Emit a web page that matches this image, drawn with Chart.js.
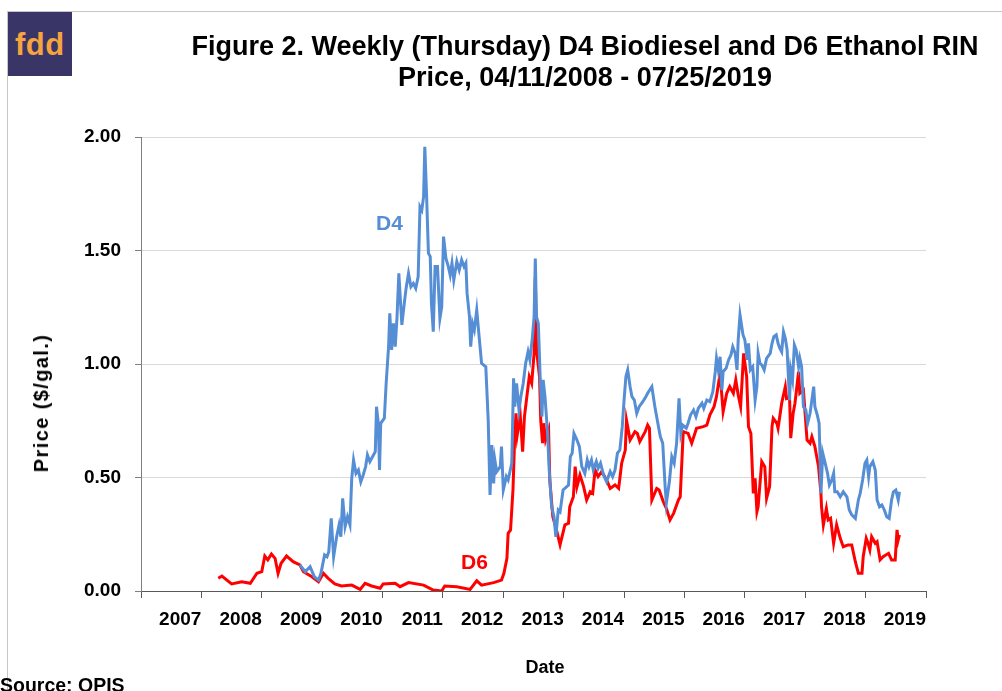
<!DOCTYPE html>
<html>
<head>
<meta charset="utf-8">
<title>D4 and D6 RIN prices</title>
<script src="https://cdn.jsdelivr.net/npm/chart.js@4.4.0/dist/chart.umd.min.js"></script>
<style>
  body { margin: 0; background: #fff; overflow: hidden; }
  #page { position: relative; width: 1002px; height: 691px; font-family: "Liberation Sans", Arial, sans-serif; }
  #wrap { position: absolute; left: 0; top: 0; width: 1002px; height: 691px; }
  .txt { position: absolute; font-weight: bold; white-space: nowrap; }
  #frameTop { position: absolute; left: 7px; top: 11px; width: 995px; height: 0; border-top: 1px solid #c6c6c6; }
  #frameLeft { position: absolute; left: 7px; top: 11px; width: 0; height: 680px; border-left: 1px solid #c6c6c6; }
  #logo { position: absolute; left: 8px; top: 12px; width: 64px; height: 64px; background: #393566; }
  #logo span { position: absolute; left: 7px; top: 15px; font-size: 31px; line-height: 35px; color: #f6a43f; font-weight: bold; letter-spacing: 0.5px; }
  #title { left: 185px; top: 31px; width: 800px; text-align: center; font-size: 27px; line-height: 31px; color: #000; }
  #ytitle { left: 41px; top: 403px; font-size: 20px; line-height: 22px; letter-spacing: 1.4px; transform: translate(-50%, -50%) rotate(-90deg); }
  #xtitle { left: 545px; top: 656px; font-size: 18px; line-height: 22px; transform: translateX(-50%); }
  #source { left: 0px; top: 674px; font-size: 19.5px; line-height: 22px; }
  #lblD4 { left: 376px; top: 211px; font-size: 21px; line-height: 24px; color: #558ed5; }
  #lblD6 { left: 461px; top: 550px; font-size: 21px; line-height: 24px; color: #ff0000; }
</style>
</head>
<body>
<div id="page">
  <div id="wrap"><canvas id="mycanvas"></canvas></div>
  <div id="frameTop"></div>
  <div id="frameLeft"></div>
  <div id="logo"><span>fdd</span></div>
  <div id="title" class="txt">Figure 2. Weekly (Thursday) D4 Biodiesel and D6 Ethanol RIN<br>Price, 04/11/2008 - 07/25/2019</div>
  <div id="ytitle" class="txt">Price ($/gal.)</div>
  <div id="xtitle" class="txt">Date</div>
  <div id="source" class="txt">Source: OPIS</div>
  <div id="lblD4" class="txt">D4</div>
  <div id="lblD6" class="txt">D6</div>
</div>
<script>
// tick labels
var yearLabels = ['2007', '2008', '2009', '2010', '2011', '2012', '2013', '2014', '2015', '2016', '2017', '2018', '2019'];
var priceLabels = ['0.00', '0.50', '1.00', '1.50', '2.00'];

// D4 biodiesel RIN, $/gal (date as decimal year)
var d4Years = [2009.63, 2009.72, 2009.80, 2009.87, 2009.94, 2009.98, 2010.04, 2010.08, 2010.11, 2010.15, 2010.19, 2010.24, 2010.28, 2010.31, 2010.34, 2010.38, 2010.42, 2010.46, 2010.49, 2010.52, 2010.56, 2010.60, 2010.64, 2010.68, 2010.72, 2010.75, 2010.79, 2010.85, 2010.88, 2010.90, 2010.93, 2010.95, 2010.97,
  2011.03, 2011.06, 2011.10, 2011.12, 2011.15, 2011.18, 2011.21, 2011.24, 2011.27, 2011.32, 2011.36, 2011.39, 2011.43, 2011.47, 2011.51, 2011.55, 2011.59, 2011.62, 2011.65, 2011.68, 2011.70, 2011.73, 2011.76, 2011.79, 2011.81, 2011.84, 2011.87, 2011.91, 2011.95, 2011.98,
  2012.01, 2012.05, 2012.09, 2012.12, 2012.15, 2012.18, 2012.23, 2012.27, 2012.31, 2012.35, 2012.38, 2012.40, 2012.44, 2012.46, 2012.49, 2012.52, 2012.56, 2012.60, 2012.64, 2012.71, 2012.75, 2012.78, 2012.81, 2012.84, 2012.86, 2012.89, 2012.95, 2012.97,
  2013.00, 2013.05, 2013.08, 2013.14, 2013.17, 2013.19, 2013.22, 2013.26, 2013.29, 2013.33, 2013.37, 2013.41, 2013.44, 2013.48, 2013.51, 2013.53, 2013.55, 2013.58, 2013.61, 2013.64, 2013.66, 2013.69, 2013.73, 2013.76, 2013.80, 2013.84, 2013.87, 2013.91, 2013.94, 2013.99,
  2014.08, 2014.11, 2014.14, 2014.17, 2014.22, 2014.26, 2014.30, 2014.35, 2014.39, 2014.42, 2014.46, 2014.49, 2014.54, 2014.57, 2014.61, 2014.66, 2014.71, 2014.77, 2014.81, 2014.85, 2014.89, 2014.93, 2014.97,
  2015.00, 2015.03, 2015.06, 2015.10, 2015.13, 2015.17, 2015.21, 2015.25, 2015.31, 2015.36, 2015.39, 2015.46, 2015.51, 2015.57, 2015.60, 2015.64, 2015.68, 2015.70, 2015.75, 2015.79, 2015.83, 2015.87, 2015.91, 2015.94, 2015.97,
  2016.03, 2016.06, 2016.10, 2016.15, 2016.19, 2016.23, 2016.29, 2016.32, 2016.37, 2016.42, 2016.47, 2016.51, 2016.53, 2016.56, 2016.59, 2016.62, 2016.64, 2016.69, 2016.73, 2016.77, 2016.80, 2016.84, 2016.87, 2016.89, 2016.92, 2016.97,
  2017.00, 2017.04, 2017.06, 2017.09, 2017.13, 2017.17, 2017.20, 2017.22, 2017.25, 2017.28, 2017.32, 2017.36, 2017.42, 2017.45, 2017.48, 2017.52, 2017.55, 2017.58, 2017.61, 2017.64, 2017.67, 2017.70, 2017.74, 2017.76, 2017.79, 2017.82, 2017.85, 2017.89, 2017.91, 2017.94, 2017.97,
  2018.01, 2018.04, 2018.08, 2018.11, 2018.14, 2018.16, 2018.20, 2018.23, 2018.26, 2018.29, 2018.33, 2018.37, 2018.40, 2018.44, 2018.47, 2018.49, 2018.53, 2018.58, 2018.63, 2018.69, 2018.73, 2018.77, 2018.83, 2018.88, 2018.91, 2018.95, 2018.99,
  2019.02, 2019.05, 2019.07, 2019.12, 2019.16, 2019.19, 2019.23, 2019.27, 2019.31, 2019.35, 2019.39, 2019.43, 2019.46, 2019.50, 2019.54, 2019.56];
var d4Prices = [0.115, 0.085, 0.107, 0.063, 0.048, 0.078, 0.159, 0.151, 0.173, 0.32, 0.151, 0.239, 0.291, 0.239, 0.408, 0.283, 0.327, 0.291, 0.496, 0.577, 0.518, 0.533, 0.481, 0.511, 0.548, 0.599, 0.57, 0.599, 0.614, 0.812, 0.739, 0.533, 0.739,
  0.761, 0.915, 1.076, 1.223, 1.062, 1.179, 1.076, 1.208, 1.399, 1.172, 1.267, 1.333, 1.399, 1.34, 1.355, 1.333, 1.385, 1.693, 1.678, 1.737, 1.957, 1.737, 1.488, 1.473, 1.267, 1.142, 1.429, 1.429, 1.201, 1.252,
  1.561, 1.465, 1.429, 1.392, 1.444, 1.37, 1.451, 1.414, 1.458, 1.429, 1.444, 1.311, 1.208, 1.076, 1.179, 1.15, 1.238, 1.12, 1.003, 0.988, 0.753, 0.423, 0.643, 0.474, 0.577, 0.526, 0.548, 0.636,
  0.445, 0.504, 0.489, 0.563, 0.937, 0.812, 0.915, 0.797, 0.856, 0.915, 1.003, 1.054, 1.018, 1.113, 1.208, 1.465, 1.208, 1.179, 0.944, 0.768, 0.93, 0.856, 0.709, 0.533, 0.371, 0.327, 0.239, 0.357, 0.349, 0.445,
  0.467, 0.592, 0.607, 0.694, 0.665, 0.636, 0.548, 0.518, 0.577, 0.548, 0.577, 0.533, 0.57, 0.54, 0.563, 0.511, 0.481, 0.526, 0.504, 0.533, 0.607, 0.621, 0.724,
  0.841, 0.944, 0.974, 0.9, 0.856, 0.841, 0.783, 0.812, 0.834, 0.856, 0.871, 0.9, 0.812, 0.724, 0.68, 0.651, 0.46, 0.386, 0.481, 0.592, 0.563, 0.651, 0.849, 0.694, 0.731,
  0.717, 0.739, 0.775, 0.797, 0.768, 0.805, 0.827, 0.805, 0.841, 0.834, 0.878, 0.966, 1.025, 0.974, 1.032, 0.885, 0.966, 0.981, 1.018, 1.04, 1.076, 1.047, 0.974, 1.106, 1.216, 1.128,
  1.106, 1.018, 1.091, 0.974, 0.988, 0.841, 0.9, 1.047, 1.003, 0.996, 0.974, 1.025, 1.047, 1.091, 1.12, 1.128, 1.091, 1.069, 1.054, 1.142, 1.113, 1.062, 0.841, 0.974, 0.93, 1.084, 1.062, 0.988, 1.025, 0.988, 0.812,
  0.797, 0.739, 0.783, 0.841, 0.9, 0.812, 0.775, 0.739, 0.43, 0.607, 0.563, 0.518, 0.467, 0.489, 0.518, 0.437, 0.437, 0.415, 0.437, 0.415, 0.357, 0.335, 0.32, 0.401, 0.43, 0.489, 0.563,
  0.577, 0.504, 0.548, 0.57, 0.533, 0.401, 0.371, 0.379, 0.357, 0.327, 0.32, 0.401, 0.437, 0.445, 0.401, 0.437];

// D6 ethanol RIN, $/gal (date as decimal year)
var d6Years = [2008.28, 2008.34, 2008.50, 2008.67, 2008.81, 2008.92, 2009.00, 2009.05, 2009.10, 2009.16, 2009.22, 2009.27, 2009.32, 2009.41, 2009.52, 2009.63, 2009.69, 2009.83, 2009.94,
  2010.02, 2010.10, 2010.21, 2010.32, 2010.49, 2010.63, 2010.71, 2010.82, 2010.96, 2011.01, 2011.21, 2011.29, 2011.43, 2011.68, 2011.84, 2011.98,
  2012.03, 2012.23, 2012.45, 2012.56, 2012.64, 2012.84, 2012.97, 2013.01, 2013.06, 2013.08, 2013.12, 2013.16, 2013.19, 2013.21, 2013.23, 2013.28, 2013.32, 2013.35, 2013.39, 2013.43, 2013.47, 2013.51, 2013.53, 2013.55, 2013.60, 2013.62, 2013.65, 2013.67, 2013.70, 2013.75, 2013.77, 2013.82, 2013.88, 2013.94,
  2014.02, 2014.08, 2014.10, 2014.16, 2014.19, 2014.22, 2014.27, 2014.33, 2014.38, 2014.44, 2014.48, 2014.52, 2014.57, 2014.63, 2014.71, 2014.77, 2014.85, 2014.91, 2014.96,
  2015.02, 2015.04, 2015.10, 2015.18, 2015.22, 2015.26, 2015.35, 2015.39, 2015.42, 2015.46, 2015.54, 2015.58, 2015.65, 2015.70, 2015.76, 2015.82, 2015.90, 2015.93, 2015.98,
  2016.06, 2016.12, 2016.20, 2016.31, 2016.37, 2016.42, 2016.49, 2016.53, 2016.59, 2016.64, 2016.70, 2016.75, 2016.81, 2016.85, 2016.89, 2016.93, 2016.98,
  2017.03, 2017.06, 2017.10, 2017.14, 2017.17, 2017.20, 2017.22, 2017.28, 2017.33, 2017.36, 2017.41, 2017.45, 2017.47, 2017.53, 2017.55, 2017.61, 2017.67, 2017.69, 2017.74, 2017.76, 2017.80, 2017.83, 2017.89, 2017.91, 2017.97,
  2018.03, 2018.08, 2018.11, 2018.16, 2018.22, 2018.26, 2018.27, 2018.30, 2018.35, 2018.38, 2018.42, 2018.47, 2018.52, 2018.58, 2018.63, 2018.71, 2018.77, 2018.83, 2018.88, 2018.94, 2018.96,
  2019.01, 2019.04, 2019.07, 2019.10, 2019.16, 2019.19, 2019.24, 2019.29, 2019.38, 2019.43, 2019.49, 2019.52, 2019.54, 2019.56];
var d6Prices = [0.056, 0.066, 0.031, 0.041, 0.034, 0.078, 0.085, 0.154, 0.137, 0.163, 0.144, 0.078, 0.122, 0.154, 0.129, 0.115, 0.085, 0.063, 0.041,
  0.078, 0.056, 0.031, 0.022, 0.026, 0.007, 0.034, 0.022, 0.012, 0.031, 0.034, 0.019, 0.037, 0.026, 0.004, 0.0,
  0.022, 0.019, 0.007, 0.045, 0.026, 0.037, 0.048, 0.078, 0.144, 0.254, 0.269, 0.445, 0.687, 0.783, 0.687, 0.775, 0.614, 0.768, 0.856, 0.944, 0.915, 1.047, 1.38, 1.062, 0.944, 0.753, 0.651, 0.739, 0.665, 0.709, 0.489, 0.327, 0.269, 0.203, 0.291,
  0.298, 0.371, 0.415, 0.548, 0.46, 0.511, 0.46, 0.401, 0.437, 0.43, 0.533, 0.504, 0.526, 0.489, 0.452, 0.467, 0.452, 0.563, 0.621,
  0.753, 0.665, 0.702, 0.694, 0.658, 0.702, 0.731, 0.717, 0.401, 0.452, 0.445, 0.393, 0.364, 0.313, 0.342, 0.401, 0.415, 0.702, 0.694,
  0.651, 0.717, 0.724, 0.731, 0.775, 0.812, 0.856, 0.959, 0.79, 0.871, 0.9, 0.871, 0.93, 0.863, 0.812, 1.047, 0.944,
  0.724, 0.694, 0.43, 0.496, 0.349, 0.371, 0.57, 0.548, 0.408, 0.46, 0.724, 0.761, 0.739, 0.717, 0.827, 0.9, 0.849, 0.856, 0.673, 0.783, 0.827, 0.966, 0.871, 0.885, 0.665,
  0.651, 0.68, 0.636, 0.548, 0.43, 0.371, 0.291, 0.364, 0.313, 0.32, 0.21, 0.291, 0.232, 0.195, 0.203, 0.203, 0.129, 0.078, 0.078, 0.151, 0.232,
  0.21, 0.181, 0.239, 0.21, 0.217, 0.137, 0.151, 0.166, 0.137, 0.137, 0.269, 0.225, 0.247, 0.228];

function toPoints(xs, ys) {
  var pts = [];
  for (var i in xs) {
    pts.push({ x: xs[i], y: ys[i] });
  }
  return pts;
}

var tickFont = { family: "'Liberation Sans', Arial, sans-serif", size: 19, weight: 'bold' };

var chartdata = {
  datasets: [
    {
      label: 'D4',
      data: toPoints(d4Years, d4Prices),
      borderColor: '#558ed5',
      borderWidth: 3,
      pointRadius: 0,
      tension: 0,
      fill: false
    },
    {
      label: 'D6',
      data: toPoints(d6Years, d6Prices),
      borderColor: '#ff0000',
      borderWidth: 3,
      pointRadius: 0,
      tension: 0,
      fill: false
    }
  ]
};

var ctx = document.getElementById('mycanvas');
var lineGraph = new Chart(ctx, {
  type: 'line',
  data: chartdata,
  options: {
    responsive: true,
    maintainAspectRatio: false,
    animation: false,
    events: [],
    layout: { padding: { left: 0, top: 137, right: 76, bottom: 50 } },
    plugins: {
      legend: { display: false },
      tooltip: { enabled: false }
    },
    scales: {
      x: {
        type: 'linear',
        min: 2007,
        max: 2020,
        afterFit: function(scale) { scale.height = 50; },
        grid: {
          drawOnChartArea: false,
          drawTicks: true,
          tickLength: 7,
          tickColor: '#595959',
          color: '#595959'
        },
        border: { display: true, color: '#595959', width: 1 },
        ticks: {
          stepSize: 1,
          autoSkip: false,
          maxRotation: 0,
          align: 'end',
          padding: 10,
          color: '#000',
          font: tickFont,
          callback: function(v) {
            return yearLabels[Math.round(v) - 2008] || '';
          }
        }
      },
      y: {
        min: 0,
        max: 2,
        afterFit: function(scale) { scale.width = 141; },
        grid: {
          color: function(c) { return c.tick && c.tick.value === 0 ? 'rgba(0,0,0,0)' : '#d9d9d9'; },
          lineWidth: 1,
          tickLength: 6,
          tickColor: '#7f7f7f'
        },
        border: { display: true, color: '#7f7f7f', width: 1 },
        ticks: {
          stepSize: 0.5,
          padding: 14,
          color: '#000',
          font: tickFont,
          callback: function(v) {
            return priceLabels[Math.round(v / 0.5)];
          }
        }
      }
    }
  }
});
</script>
</body>
</html>
